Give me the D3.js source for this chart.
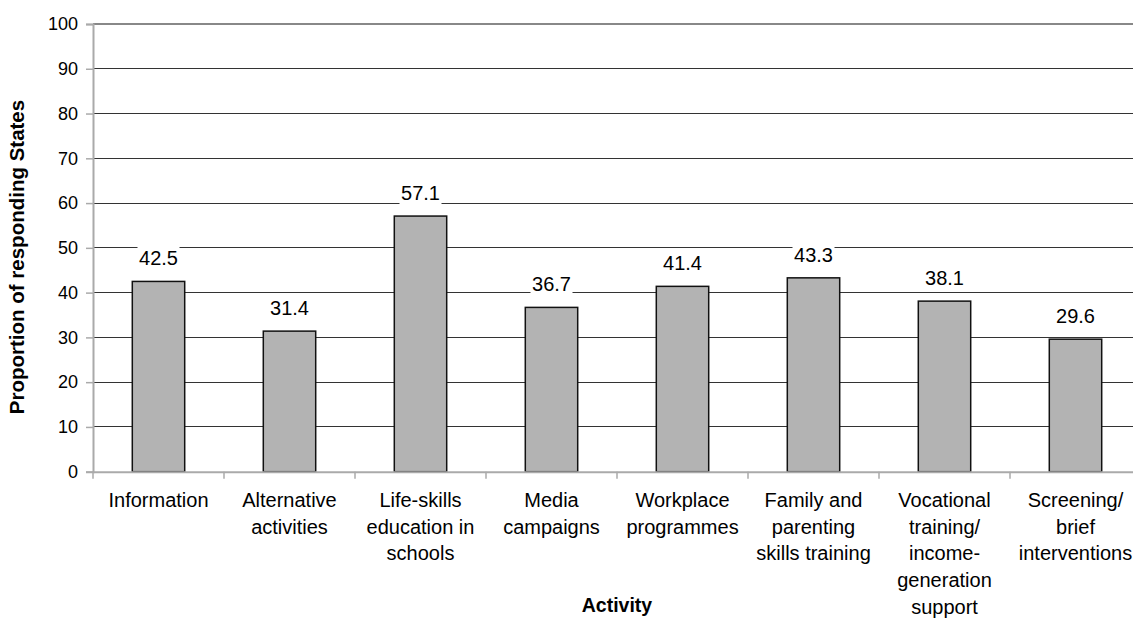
<!DOCTYPE html>
<html><head><meta charset="utf-8">
<script src="https://cdn.jsdelivr.net/npm/d3@7"></script>
<style>html,body{margin:0;padding:0;background:#fff;overflow:hidden}svg{display:block}</style>
</head><body>
<script>
const categories = [
  ["Information"],
  ["Alternative","activities"],
  ["Life-skills","education in","schools"],
  ["Media","campaigns"],
  ["Workplace","programmes"],
  ["Family and","parenting","skills training"],
  ["Vocational","training/","income-","generation","support"],
  ["Screening/","brief","interventions"]
];
const values = [42.5, 31.4, 57.1, 36.7, 41.4, 43.3, 38.1, 29.6];
const yTicks = [0,10,20,30,40,50,60,70,80,90,100];

const W = 1133, H = 619;
const pLeft = 93, pRight = 1141, pTop = 24, pBottom = 471.7;
const font = "'Liberation Sans', Arial, sans-serif";

const svg = d3.select("body").append("svg").attr("width", W).attr("height", H)
  .style("font-family", font);

const x = d3.scaleBand().domain(d3.range(categories.length)).range([pLeft, pRight]).paddingInner(0.6).paddingOuter(0.3);
const xc = d3.scaleBand().domain(d3.range(categories.length)).range([pLeft, pRight]);
const y = d3.scaleLinear().domain([0, 100]).range([pBottom, pTop]);

// gridlines
svg.append("g").selectAll("line").data(yTicks.filter(t => t > 0 && t < 100)).join("line")
  .attr("x1", pLeft).attr("x2", pRight).attr("y1", d => y(d)).attr("y2", d => y(d))
  .attr("stroke", "#333").attr("stroke-width", 1).attr("shape-rendering", "crispEdges");
// top border
svg.append("line").attr("x1", pLeft).attr("x2", pRight).attr("y1", y(100)).attr("y2", y(100))
  .attr("stroke", "#888").attr("stroke-width", 2);

// bars
svg.append("g").selectAll("rect").data(values).join("rect")
  .attr("x", (d, i) => x(i)).attr("width", x.bandwidth())
  .attr("y", d => y(d)).attr("height", d => y(0) - y(d))
  .attr("fill", "#b3b3b3").attr("stroke", "#111").attr("stroke-width", 1.5);

// y axis
const yAxis = d3.axisLeft(y).tickValues(yTicks).tickSize(7).tickPadding(8);
const gy = svg.append("g").attr("transform", `translate(${pLeft},0)`).call(yAxis);
gy.select(".domain").attr("stroke", "#aaa").attr("stroke-width", 2);
gy.selectAll(".tick line").attr("stroke", "#aaa").attr("stroke-width", 1.5);
gy.selectAll(".tick text").attr("font-size", 18).attr("fill", "#000").attr("font-family", font);

// x axis
const xAxis = d3.axisBottom(xc).tickValues([]).tickSizeOuter(0);
const gx = svg.append("g").attr("transform", `translate(0,${pBottom})`).call(xAxis);
gx.select(".domain").attr("stroke", "#aaa").attr("stroke-width", 2);
gx.selectAll("line.sep").data(d3.range(categories.length + 1)).join("line")
  .attr("class", "sep")
  .attr("x1", i => pLeft + i * xc.step()).attr("x2", i => pLeft + i * xc.step())
  .attr("y1", 0).attr("y2", 7).attr("stroke", "#aaa").attr("stroke-width", 1.5);

// category labels
const cl = svg.append("g").selectAll("text").data(categories).join("text")
  .attr("text-anchor", "middle").attr("font-size", 20).attr("fill", "#000")
  .attr("transform", (d, i) => `translate(${xc(i) + xc.bandwidth() / 2},507)`);
cl.selectAll("tspan").data(d => d).join("tspan")
  .attr("x", 0).attr("y", (d, j) => j * 26.7).text(d => d);

// value labels with white background
const vl = svg.append("g").selectAll("g").data(values).join("g")
  .attr("transform", (d, i) => `translate(${x(i) + x.bandwidth() / 2},${y(d) - 16})`);
vl.append("rect").attr("x", -21).attr("y", -19).attr("width", 42).attr("height", 24).attr("fill", "#fff");
vl.append("text").attr("text-anchor", "middle").attr("font-size", 20).attr("fill", "#000")
  .text(d => d.toFixed(1));

// axis titles
svg.append("text").attr("text-anchor", "middle").attr("font-size", 20.5).attr("font-weight", "bold")
  .attr("transform", `translate(24,257) rotate(-90)`).text("Proportion of responding States");
svg.append("text").attr("text-anchor", "middle").attr("font-size", 19.5).attr("font-weight", "bold")
  .attr("x", (pLeft + pRight) / 2).attr("y", 612).text("Activity");
</script>
</body></html>
